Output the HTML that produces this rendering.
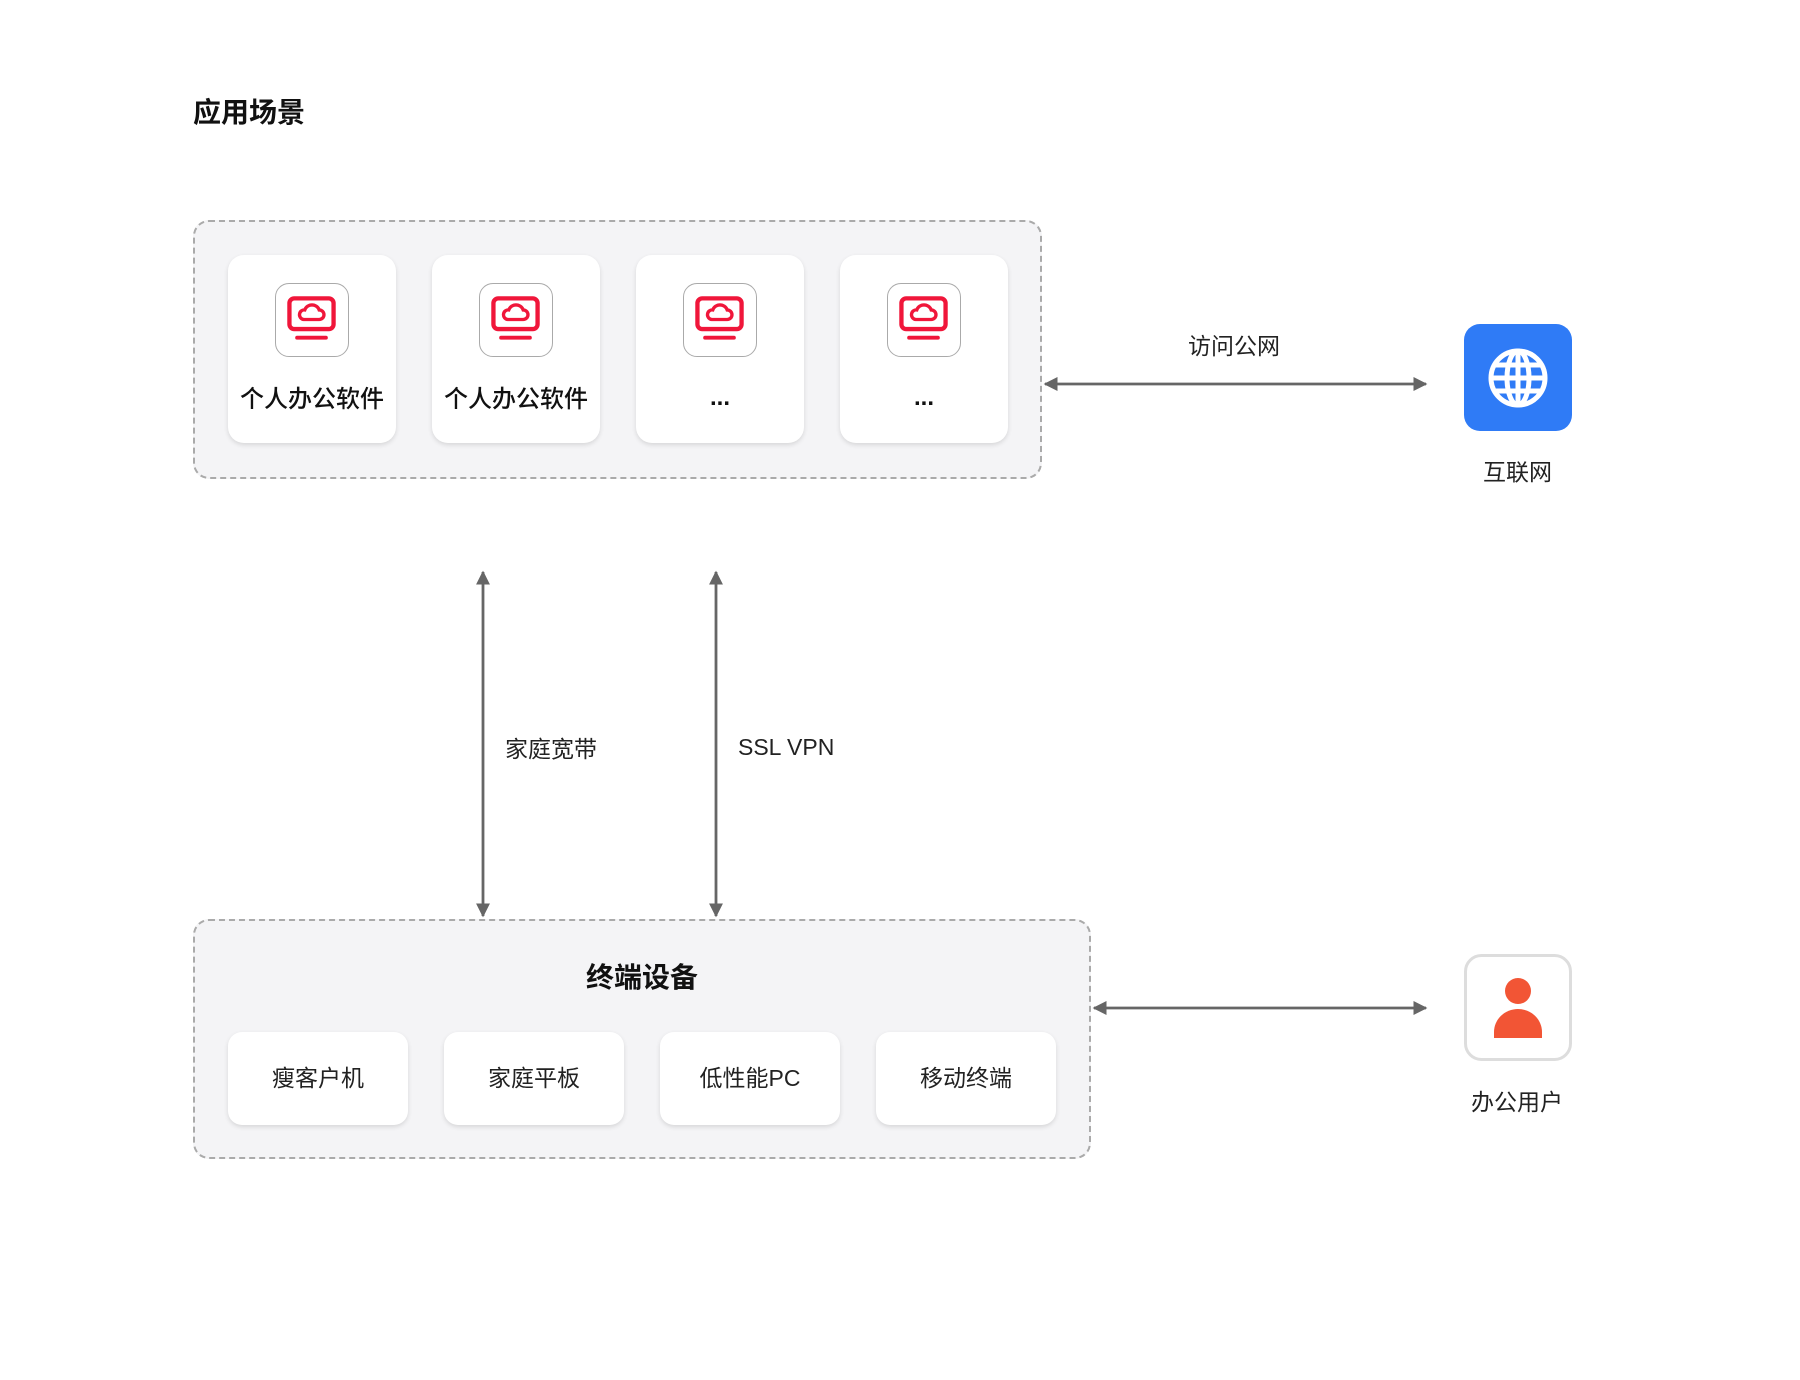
<!DOCTYPE html>
<html><head><meta charset="utf-8"><style>
body{margin:0;width:1800px;height:1380px;background:#fff;position:relative;font-family:"Liberation Sans","Noto Sans CJK SC",sans-serif;overflow:hidden}
.abs{position:absolute}
.grp{position:absolute;background:#f4f4f6;border:2.5px dashed #aaa;border-radius:16px;box-sizing:border-box}
.card{position:absolute;background:#fff;border-radius:16px;box-shadow:0 2px 5px rgba(0,0,0,0.12)}
.ic{position:absolute;left:47px;top:28px;width:74px;height:74px;box-sizing:border-box;border:1.5px solid #aaa;border-radius:14px;background:#fff}
.cl{position:absolute;left:0;right:0;top:124px;text-align:center;font-size:24px;font-weight:500;color:#111}
.bc{position:absolute;top:1032px;width:180px;height:93px;background:#fff;border-radius:14px;box-shadow:0 2px 5px rgba(0,0,0,0.12);text-align:center;line-height:93px;font-size:23px;color:#222}
.lbl{position:absolute;font-size:23px;color:#222;white-space:nowrap}
</style></head><body>
<div class="abs" style="left:193px;top:91px;font-size:28px;font-weight:bold;color:#111">应用场景</div>

<div class="grp" style="left:193px;top:220px;width:849px;height:259px"></div>
<div class="card" style="left:228px;top:255px;width:168px;height:188px"><div class="ic"><svg width="71" height="71" viewBox="0 0 74 74"><rect x="14" y="15" width="46" height="32" rx="5" fill="none" stroke="#f0163a" stroke-width="4.5"/><path d="M29 37 h16 a5 5 0 0 0 0-10 a8 8 0 0 0-15 0 a5 5 0 0 0-1 10z" fill="none" stroke="#f0163a" stroke-width="3.5"/><rect x="20" y="54" width="34" height="4" rx="2" fill="#f0163a"/></svg></div><div class="cl">个人办公软件</div></div>
<div class="card" style="left:432px;top:255px;width:168px;height:188px"><div class="ic"><svg width="71" height="71" viewBox="0 0 74 74"><rect x="14" y="15" width="46" height="32" rx="5" fill="none" stroke="#f0163a" stroke-width="4.5"/><path d="M29 37 h16 a5 5 0 0 0 0-10 a8 8 0 0 0-15 0 a5 5 0 0 0-1 10z" fill="none" stroke="#f0163a" stroke-width="3.5"/><rect x="20" y="54" width="34" height="4" rx="2" fill="#f0163a"/></svg></div><div class="cl">个人办公软件</div></div>
<div class="card" style="left:636px;top:255px;width:168px;height:188px"><div class="ic"><svg width="71" height="71" viewBox="0 0 74 74"><rect x="14" y="15" width="46" height="32" rx="5" fill="none" stroke="#f0163a" stroke-width="4.5"/><path d="M29 37 h16 a5 5 0 0 0 0-10 a8 8 0 0 0-15 0 a5 5 0 0 0-1 10z" fill="none" stroke="#f0163a" stroke-width="3.5"/><rect x="20" y="54" width="34" height="4" rx="2" fill="#f0163a"/></svg></div><div class="cl" style="font-weight:bold;top:129px">...</div></div>
<div class="card" style="left:840px;top:255px;width:168px;height:188px"><div class="ic"><svg width="71" height="71" viewBox="0 0 74 74"><rect x="14" y="15" width="46" height="32" rx="5" fill="none" stroke="#f0163a" stroke-width="4.5"/><path d="M29 37 h16 a5 5 0 0 0 0-10 a8 8 0 0 0-15 0 a5 5 0 0 0-1 10z" fill="none" stroke="#f0163a" stroke-width="3.5"/><rect x="20" y="54" width="34" height="4" rx="2" fill="#f0163a"/></svg></div><div class="cl" style="font-weight:bold;top:129px">...</div></div>

<div class="grp" style="left:193px;top:919px;width:898px;height:240px"></div>
<div class="abs" style="left:193px;width:898px;top:956px;text-align:center;font-size:28px;font-weight:bold;color:#111">终端设备</div>
<div class="bc" style="left:228px">瘦客户机</div>
<div class="bc" style="left:444px">家庭平板</div>
<div class="bc" style="left:660px">低性能PC</div>
<div class="bc" style="left:876px">移动终端</div>

<svg class="abs" style="left:0;top:0" width="1800" height="1380">
<defs><marker id="a" viewBox="0 0 10 10" refX="9" refY="5" markerWidth="5" markerHeight="5" orient="auto-start-reverse"><path d="M0 0L10 5L0 10z" fill="#666"/></marker></defs>
<g stroke="#666" stroke-width="2.8" fill="none">
<line x1="1045" y1="384" x2="1426" y2="384" marker-start="url(#a)" marker-end="url(#a)"/>
<line x1="1094" y1="1008" x2="1426" y2="1008" marker-start="url(#a)" marker-end="url(#a)"/>
<line x1="483" y1="572" x2="483" y2="916" marker-start="url(#a)" marker-end="url(#a)"/>
<line x1="716" y1="572" x2="716" y2="916" marker-start="url(#a)" marker-end="url(#a)"/>
</g>
<rect x="1464" y="324" width="108" height="107" rx="16" fill="#2f7bf6"/>
<g stroke="#fff" stroke-width="5" fill="none">
<circle cx="1518" cy="378" r="27"/><ellipse cx="1518" cy="378" rx="11" ry="27"/>
<line x1="1491" y1="378" x2="1545" y2="378"/><line x1="1494" y1="365" x2="1542" y2="365"/><line x1="1494" y1="391" x2="1542" y2="391"/><line x1="1518" y1="351" x2="1518" y2="405"/>
</g>
<rect x="1465.5" y="955.5" width="105" height="104" rx="16" fill="#fff" stroke="#ddd" stroke-width="3"/>
<circle cx="1518" cy="991" r="13" fill="#f25535"/>
<path d="M1494 1038 v-6 a24 23 0 0 1 48 0 v6z" fill="#f25535"/>
</svg>

<div class="lbl" style="left:1188px;top:327px">访问公网</div>
<div class="lbl" style="left:1483px;top:453px">互联网</div>
<div class="lbl" style="left:1471px;top:1083px">办公用户</div>
<div class="lbl" style="left:505px;top:730px">家庭宽带</div>
<div class="lbl" style="left:738px;top:734px">SSL VPN</div>
</body></html>
